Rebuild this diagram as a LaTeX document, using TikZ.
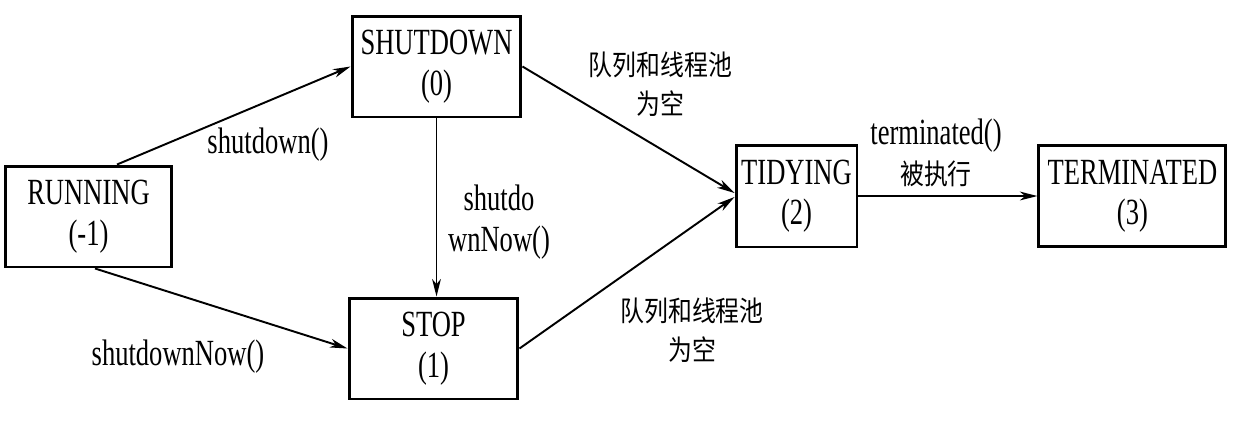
\documentclass[tikz,border=0pt]{standalone}
\usepackage{fontspec}
\setmainfont{Liberation Serif}[FakeStretch=0.72]
\newfontfamily\cjk{Noto Sans CJK SC}[FakeStretch=0.85]
\usetikzlibrary{arrows.meta,positioning}

\begin{document}
\begin{tikzpicture}[
    x=0.02cm, y=-0.02cm,
    state/.style={draw,line width=1.7pt,align=center,inner sep=0pt,
                  minimum height=2.02cm,font=\fontsize{21}{23}\selectfont},
    lbl/.style={align=center,inner sep=0pt,font=\fontsize{21}{23}\selectfont},
    cnlbl/.style={align=center,inner sep=0pt,font=\cjk\fontsize{16}{22}\selectfont},
    trans/.style={line width=1.1pt,-{Stealth[length=10pt,width=5pt,inset=3pt]}}]
\useasboundingbox (0,0) rectangle (1256,424);
\node (run)  [state,minimum width=3.34cm] at (88.5,216.5) {RUNNING\\(-1)};
\node (sd)   [state,minimum width=3.38cm] at (436.5,66.5) {SHUTDOWN\\(0)};
\node (stop) [state,minimum width=3.38cm] at (433.5,348.5) {STOP\\(1)};
\node (tidy) [state,minimum width=2.42cm,minimum height=2.04cm]
        at (796.5,196) {TIDYING\\(2)};
\node (term) [state,minimum width=3.74cm,right=3.58cm of tidy] {TERMINATED\\(3)};
% transitions
\draw[trans] ([xshift=0.57cm]run.north) -- (sd.west);
\draw[trans] ([xshift=0.13cm]run.south) -- (stop.west);
\draw[trans] (sd.south) -- (sd.south |- stop.north);
\draw[trans] (sd.east) -- ([yshift=0.06cm]tidy.west);
\draw[trans] (stop.east) -- ([yshift=-0.02cm]tidy.west);
\draw[trans] (tidy.east) -- (term.west);
% labels
\node (l1) [lbl] at (268,145) {shutdown()};
\node (l2) [lbl] at (178,357) {shutdownNow()};
\node (l3) [lbl] at (499,222) {shutdo\\wnNow()};
\node (l4) [cnlbl] at (660.5,84) {队列和线程池\\为空};
\node (l5) [cnlbl] at (692,330) {队列和线程池\\为空};
\node (l6) [lbl] at (936,153)
        {terminated()\\{\cjk\fontsize{16}{22}\selectfont 被执行}};
\end{tikzpicture}
\end{document}
